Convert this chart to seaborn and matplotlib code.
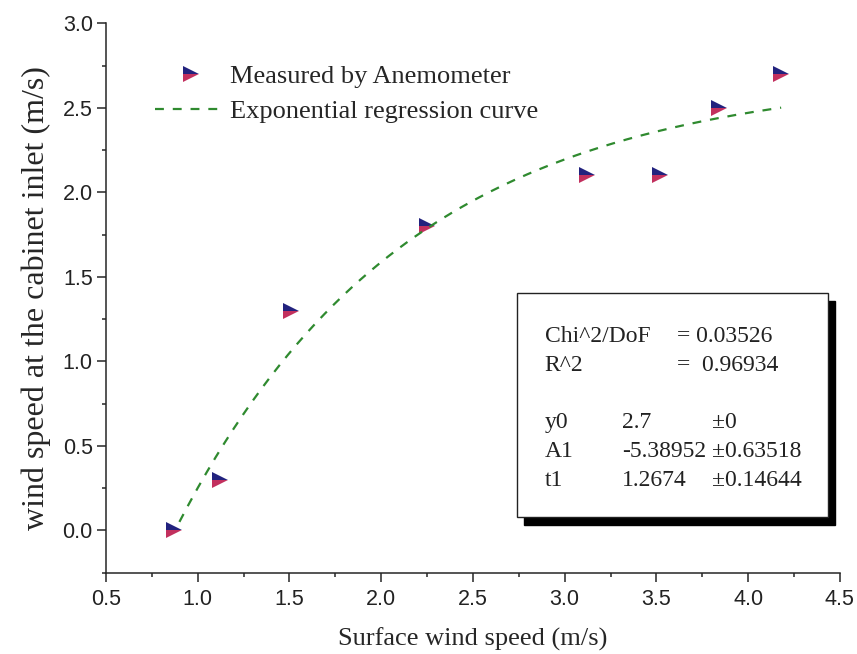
import matplotlib
matplotlib.use("Agg")
import matplotlib.pyplot as plt
from matplotlib.patches import Rectangle
from matplotlib.ticker import MultipleLocator
import numpy as np
import pandas as pd
import seaborn as sns

# measured points
surface_speed = [0.87, 1.12, 1.51, 2.25, 3.12, 3.52, 3.84, 4.18]
inlet_speed = [0.0, 0.3, 1.3, 1.8, 2.1, 2.1, 2.5, 2.7]

# fitted parameters shown in the box (ExpDec1: y = y0 + A1*exp(-x/t1))
y0, A1, t1 = 2.7, -5.38952, 1.2674
fit_rows = [
    ("Chi^2/DoF", "= 0.03526", ""),
    ("R^2", "=  0.96934", ""),
    ("y0", "2.7", "\u00b10"),
    ("A1", "-5.38952", "\u00b10.63518"),
    ("t1", "1.2674", "\u00b10.14644"),
]

df = pd.DataFrame({"x": surface_speed, "y": inlet_speed})
xs = np.linspace(df.x.min() + 0.03, df.x.max(), 200)
curve = pd.DataFrame({"x": xs, "y": y0 + A1 * np.exp(-xs / t1)})

sns.set_style("ticks")
serif = ["Liberation Serif", "DejaVu Serif"]
sans = ["Liberation Sans", "DejaVu Sans"]
plt.rcParams["font.family"] = sans

fig = plt.figure(figsize=(8.57, 6.54), dpi=100)
ax = fig.add_axes([0.1237, 0.1243, 0.8563, 0.8401])

sns.lineplot(
    data=df, x="x", y="y", ax=ax, linestyle="none", marker=">",
    markersize=12, markerfacecolor="#22227e", markerfacecoloralt="#c2305e",
    fillstyle="top", markeredgewidth=0, label="Measured by Anemometer",
)
sns.lineplot(
    data=curve, x="x", y="y", ax=ax, color="#2f8a2f", lw=1.6,
    label="Exponential regression curve",
)
ax.lines[-1].set_dashes((4, 4))

ax.set_xlim(0.5, 4.5)
ax.set_ylim(-0.25, 3.0)
ax.xaxis.set_major_locator(MultipleLocator(0.5))
ax.xaxis.set_minor_locator(MultipleLocator(0.25))
ax.yaxis.set_major_locator(MultipleLocator(0.5))
ax.yaxis.set_minor_locator(MultipleLocator(0.25))
ax.tick_params(which="major", length=6.5, width=1.1, labelsize=15.5,
               labelcolor="#222222")
ax.tick_params(which="minor", length=3.2, width=1.1)
ax.tick_params(axis="x", pad=5)
ax.tick_params(axis="y", pad=3)
for s in ("left", "bottom"):
    ax.spines[s].set_linewidth(1.1)
sns.despine(ax=ax)

ax.set_xlabel("Surface wind speed (m/s)", family=serif, fontsize=19,
              labelpad=13)
ax.set_ylabel("wind speed at the cabinet inlet (m/s)", family=serif,
              fontsize=23, labelpad=8)

leg = ax.legend(loc="upper left", bbox_to_anchor=(0.067, 0.925), frameon=False,
                prop={"family": serif, "size": 19}, handlelength=2.7,
                handletextpad=0.15, labelspacing=0.45, borderpad=0,
                borderaxespad=0, numpoints=1)

# fit result box with drop shadow
bx, by, bw, bh = 0.560, 0.1014, 0.4237, 0.4077
ax.add_patch(Rectangle((bx + 0.0095, by - 0.0146), bw, bh, transform=ax.transAxes,
                       facecolor="black", edgecolor="black", clip_on=False,
                       zorder=5))
ax.add_patch(Rectangle((bx, by), bw, bh, transform=ax.transAxes,
                       facecolor="white", edgecolor="#222222", lw=1.0,
                       clip_on=False, zorder=6))
baselines = [0.4205, 0.3671, 0.2633, 0.2100, 0.1578]
for (name, val, err), yb in zip(fit_rows, baselines):
    ax.text(0.598, yb, name, transform=ax.transAxes, family=serif,
            fontsize=17, va="baseline", zorder=7, color="#222222")
    vx = 0.778 if val.startswith("=") else 0.703
    ax.text(vx, yb, val, transform=ax.transAxes, family=serif,
            fontsize=17, va="baseline", zorder=7, color="#222222")
    if err:
        ax.text(0.826, yb, err, transform=ax.transAxes, family=serif,
                fontsize=17, va="baseline", zorder=7, color="#222222")

fig.savefig("out.png", dpi=100)
